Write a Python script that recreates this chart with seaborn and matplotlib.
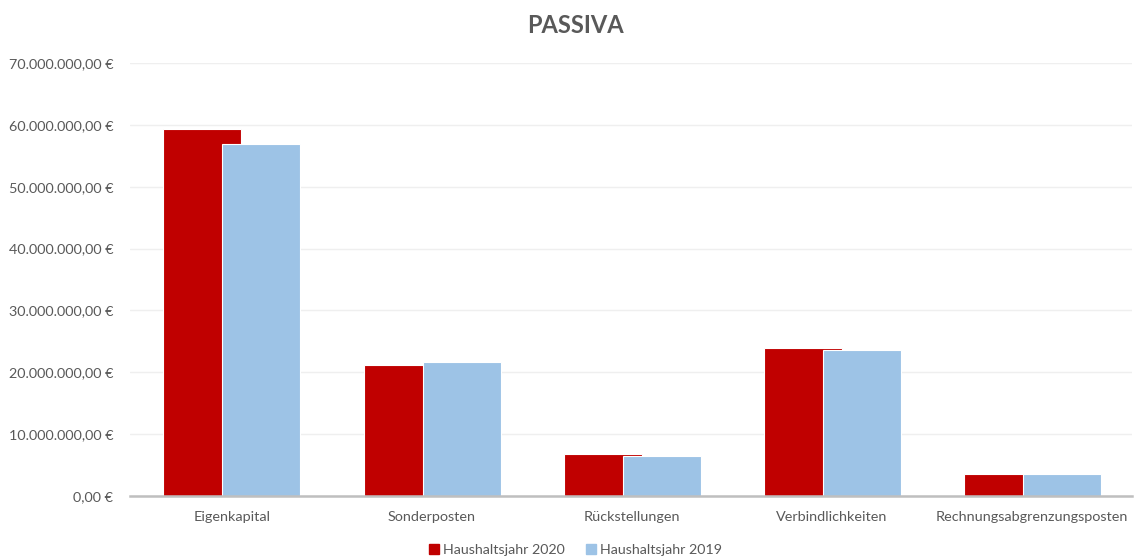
import pandas as pd
import matplotlib.pyplot as plt
import seaborn as sns
from matplotlib.ticker import FuncFormatter
from matplotlib.patches import Patch

# Data
categories = ["Eigenkapital", "Sonderposten", "Rückstellungen", "Verbindlichkeiten", "Rechnungsabgrenzungsposten"]
years = ["Haushaltsjahr 2020", "Haushaltsjahr 2019"]
values_2020 = [59400000, 21100000, 6800000, 23900000, 3600000]
values_2019 = [56900000, 21700000, 6400000, 23650000, 3600000]
colors = ["#c00000", "#9dc3e6"]

df = pd.DataFrame({
    "kategorie": categories * 2,
    "jahr": [years[0]] * 5 + [years[1]] * 5,
    "wert": values_2020 + values_2019,
})

sns.set_style("white")
plt.rcParams["font.family"] = ["Lato", "DejaVu Sans"]
text_col = "#595959"

fig = plt.figure(figsize=(11.35, 5.59), dpi=100)
ax = fig.add_axes([0.1145, 0.1127, 0.883, 0.7746])

sns.barplot(data=df, x="kategorie", y="wert", hue="jahr", order=categories,
            hue_order=years, palette=colors, saturation=1, width=0.59, dodge=True,
            errorbar=None, edgecolor="white", linewidth=0.8, legend=False, ax=ax)

# Excel-style overlapping bars: widen each bar but keep its centre
bar_w = 0.39
for p in ax.patches:
    c = p.get_x() + p.get_width() / 2
    p.set_width(bar_w)
    p.set_x(c - bar_w / 2)

ax.set_xlim(-0.51, 4.5)
ax.set_ylim(0, 70000000)
ax.set_yticks(range(0, 70000001, 10000000))
ax.yaxis.set_major_formatter(FuncFormatter(
    lambda v, _: f"{v:,.2f}".replace(",", "X").replace(".", ",").replace("X", ".") + " €"))
ax.grid(axis="y", color="#efefef", linewidth=1)
ax.set_axisbelow(True)
for s in ["top", "right", "left"]:
    ax.spines[s].set_visible(False)
ax.spines["bottom"].set_color("#bfbfbf")
ax.spines["bottom"].set_linewidth(1.8)
ax.tick_params(axis="both", length=0, labelsize=10.4, colors=text_col)
ax.tick_params(axis="x", pad=11)
ax.tick_params(axis="y", pad=12)
ax.set_xlabel("")
ax.set_ylabel("")

fig.suptitle("PASSIVA", x=0.507, y=0.975, fontsize=17, fontweight="bold", color=text_col)

handles = [Patch(color=colors[0]), Patch(color=colors[1])]
fig.legend(handles, years, loc="lower center", bbox_to_anchor=(0.507, -0.017), ncol=2,
           frameon=False, fontsize=10.3, labelcolor=text_col, handlelength=0.7,
           handleheight=0.7, handletextpad=0.3, columnspacing=1.5)

fig.savefig("out.png", dpi=100)
